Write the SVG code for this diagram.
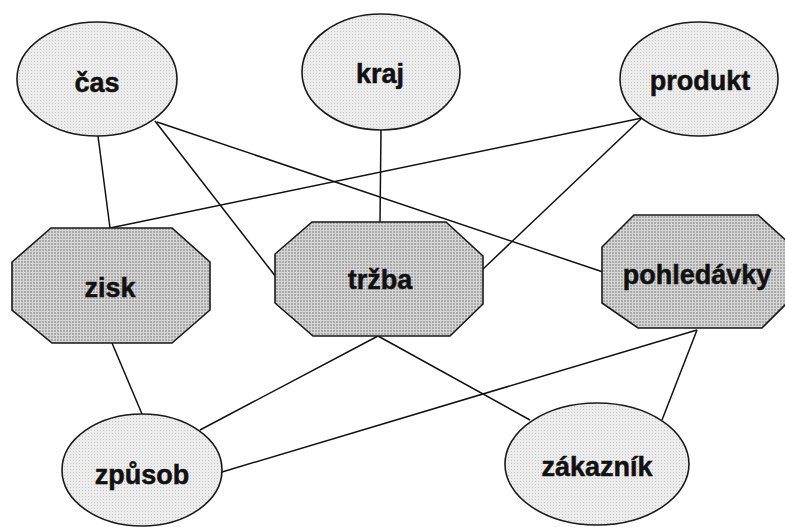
<svg xmlns="http://www.w3.org/2000/svg" width="785" height="527" viewBox="0 0 785 527">
  <defs>
    <pattern id="dotsLight" width="3" height="3" patternUnits="userSpaceOnUse">
      <rect width="3" height="3" fill="#ececec"/>
      <rect x="1" y="1" width="1" height="1" fill="#c4c4c4"/>
    </pattern>
    <pattern id="dotsDark" width="3" height="3" patternUnits="userSpaceOnUse">
      <rect width="3" height="3" fill="#d6d6d6"/>
      <rect x="0" y="0" width="2" height="2" fill="#a9a9a9"/>
    </pattern>
  </defs>
  <style>
    .conn { stroke: #111; stroke-width: 1.5; fill: none; }
    .dim { fill: url(#dotsLight); stroke: #1a1a1a; stroke-width: 1.6; }
    .fact { fill: url(#dotsDark); stroke: #1a1a1a; stroke-width: 1.6; }
    .lbl { font-family: "Liberation Sans", Arial, sans-serif; font-weight: bold; font-size: 27px; fill: #111; stroke: #111; stroke-width: 0.5; text-anchor: middle; }
  </style>
  <rect width="785" height="527" fill="#ffffff"/>

  <!-- links between fact tables and dimensions -->
  <g id="connectors">
    <line class="conn" x1="98" y1="136" x2="110" y2="228"/>
    <line class="conn" x1="155" y1="121" x2="276" y2="277"/>
    <line class="conn" x1="157" y1="122" x2="603" y2="272"/>
    <line class="conn" x1="381" y1="129" x2="380" y2="222"/>
    <line class="conn" x1="642" y1="118" x2="110" y2="228"/>
    <line class="conn" x1="642" y1="118" x2="482" y2="270"/>
    <line class="conn" x1="112" y1="343" x2="142" y2="414"/>
    <line class="conn" x1="378" y1="336" x2="200" y2="430"/>
    <line class="conn" x1="378" y1="336" x2="530" y2="420"/>
    <line class="conn" x1="697" y1="330" x2="222" y2="472"/>
    <line class="conn" x1="697" y1="330" x2="662" y2="420"/>
  </g>

  <!-- dimensions (ellipses) -->
  <g id="cas">
    <ellipse class="dim" cx="97" cy="79" rx="80" ry="57"/>
    <text class="lbl" x="97" y="92">čas</text>
  </g>
  <g id="kraj">
    <ellipse class="dim" cx="381" cy="72" rx="79" ry="58"/>
    <text class="lbl" x="380" y="83">kraj</text>
  </g>
  <g id="produkt">
    <ellipse class="dim" cx="699" cy="79" rx="79" ry="57"/>
    <text class="lbl" x="700" y="90">produkt</text>
  </g>

  <!-- fact tables (octagons) -->
  <g id="zisk">
    <polygon class="fact" points="51,228 172,228 210,262 210,310 172,343 52,343 12,310 12,262"/>
    <text class="lbl" x="110" y="297">zisk</text>
  </g>
  <g id="trzba">
    <polygon class="fact" points="312,222 446,222 483,256 483,304 450,336 313,336 275,303 275,254"/>
    <text class="lbl" x="380" y="289">tržba</text>
  </g>
  <g id="pohledavky">
    <polygon class="fact" points="634,215 758,215 790,244 790,300 762,328 638,328 602,303 602,247"/>
    <text class="lbl" x="697" y="284">pohledávky</text>
  </g>

  <g id="zpusob">
    <ellipse class="dim" cx="142" cy="470" rx="80" ry="56"/>
    <text class="lbl" x="142" y="484">způsob</text>
  </g>
  <g id="zakaznik">
    <ellipse class="dim" cx="597" cy="464" rx="92" ry="61"/>
    <text class="lbl" x="597" y="476">zákazník</text>
  </g>
</svg>
